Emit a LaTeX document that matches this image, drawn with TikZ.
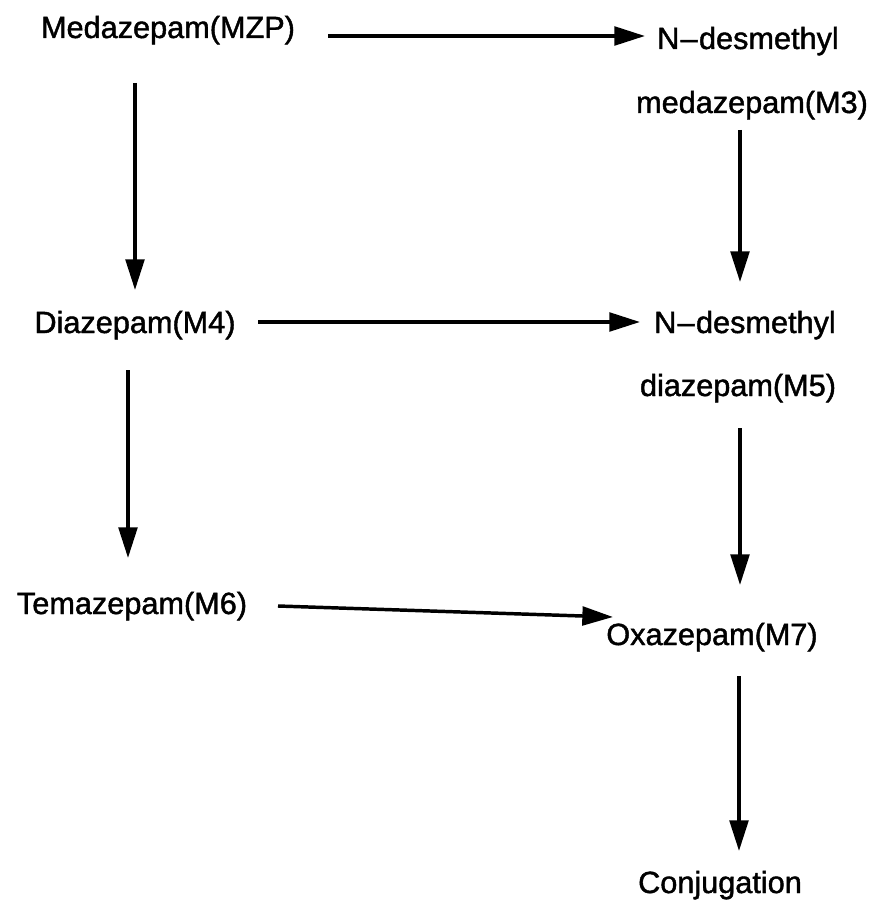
\documentclass[tikz,border=0pt]{standalone}
\usepackage{fontspec}
\setmainfont{Liberation Sans}
\newfontfamily\labelfont[FakeBold=1.4,Ligatures=TeX]{Liberation Sans}
\usetikzlibrary{arrows.meta}
\begin{document}
\begin{tikzpicture}[x=0.75pt,y=-0.75pt,
  label/.style={inner sep=0pt,anchor=base,font=\labelfont\fontsize{23}{27}\selectfont},
  react/.style={line width=2.6pt,-{Triangle[length=23pt,width=14pt]}}]
\useasboundingbox (0,0) rectangle (879,909);
% compounds
\node[label] (mzp) at (168,38) {Medazepam(MZP)};
\node[label] (m3a) at (748,49) {N\kern1pt\textendash\kern1ptdesmethyl};
\node[label] (m3b) at (752,113) {medazepam(M3)};
\node[label] (m4) at (135,333) {Diazepam(M4)};
\node[label] (m5a) at (745,333) {N\kern1pt\textendash\kern1ptdesmethyl};
\node[label] (m5b) at (738,396) {diazepam(M5)};
\node[label] (m6) at (132,614) {Temazepam(M6)};
\node[label] (m7) at (712,645) {Oxazepam(M7)};
\node[label] (conj) at (720,893) {Conjugation};
% arrow end points
\coordinate (a1s) at (328,36);  \coordinate (a1e) at (645,36);
\coordinate (a2s) at (135,83);  \coordinate (a2e) at (135,290);
\coordinate (a3s) at (740,130); \coordinate (a3e) at (740,282);
\coordinate (a4s) at (258,322); \coordinate (a4e) at (640,322);
\coordinate (a5s) at (128,370); \coordinate (a5e) at (128,558);
\coordinate (a6s) at (740,428); \coordinate (a6e) at (740,585);
\coordinate (a7s) at (278,606); \coordinate (a7e) at (613,617);
\coordinate (a8s) at (739,676); \coordinate (a8e) at (739,851);
% metabolic steps
\draw[react] (a1s) -- (a1e);
\draw[react] (a2s) -- (a2e);
\draw[react] (a3s) -- (a3e);
\draw[react] (a4s) -- (a4e);
\draw[react] (a5s) -- (a5e);
\draw[react] (a6s) -- (a6e);
\draw[react] (a7s) -- (a7e);
\draw[react] (a8s) -- (a8e);
\end{tikzpicture}
\end{document}
